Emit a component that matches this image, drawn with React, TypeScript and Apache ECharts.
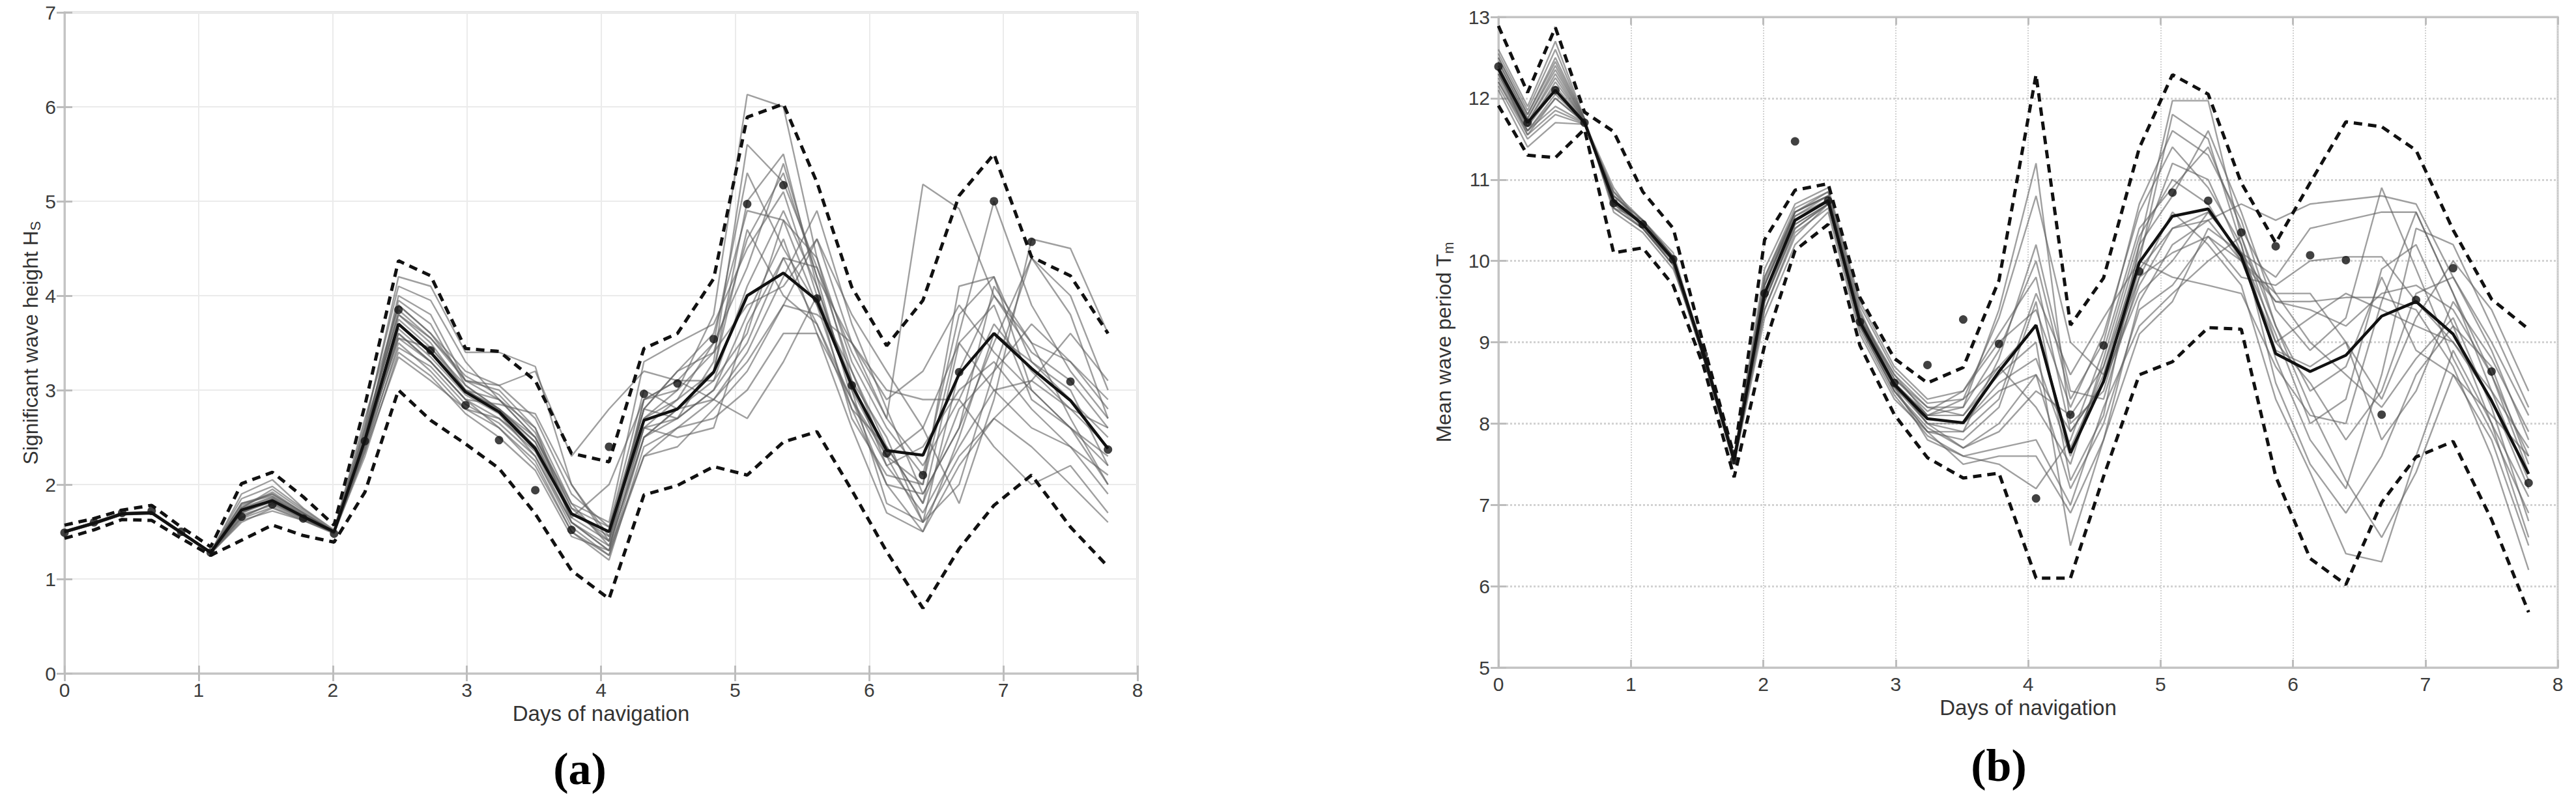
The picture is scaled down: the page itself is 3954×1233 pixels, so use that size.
import React, { useEffect, useRef } from "react";
import * as echarts from "echarts";

// ---------- shared time axis (days of navigation) ----------
const DAYS = [0, 0.22, 0.43, 0.65, 0.87, 1.09, 1.32, 1.55, 1.78, 2.01, 2.24, 2.49, 2.73, 2.99, 3.24, 3.51, 3.78, 4.06, 4.32, 4.57, 4.84, 5.09, 5.36, 5.61, 5.87, 6.13, 6.40, 6.67, 6.93, 7.21, 7.50, 7.78];
const X_TICKS = [0, 1, 2, 3, 4, 5, 6, 7, 8];

// ---------- (a) significant wave height Hs ----------
const HS_MEAN = [1.50, 1.59, 1.69, 1.70, 1.49, 1.28, 1.73, 1.83, 1.66, 1.50, 2.47, 3.70, 3.40, 2.98, 2.77, 2.38, 1.69, 1.50, 2.68, 2.80, 3.19, 4.00, 4.24, 3.95, 3.05, 2.36, 2.31, 3.17, 3.60, 3.23, 2.89, 2.38];
const HS_UPPER = [1.57, 1.64, 1.73, 1.78, 1.55, 1.34, 2.01, 2.13, 1.87, 1.57, 2.84, 4.37, 4.21, 3.44, 3.41, 3.10, 2.33, 2.24, 3.44, 3.60, 4.18, 5.89, 6.03, 5.20, 4.09, 3.47, 3.95, 5.06, 5.50, 4.41, 4.21, 3.60];
const HS_LOWER = [1.43, 1.52, 1.63, 1.62, 1.43, 1.25, 1.41, 1.57, 1.46, 1.39, 1.92, 3.00, 2.68, 2.43, 2.17, 1.69, 1.09, 0.79, 1.89, 1.99, 2.19, 2.10, 2.45, 2.56, 1.94, 1.29, 0.69, 1.32, 1.78, 2.10, 1.55, 1.13];
const HS_OBS = [1.49, 1.60, 1.70, 1.72, 1.50, 1.28, 1.66, 1.79, 1.64, 1.48, 2.46, 3.85, 3.42, 2.84, 2.47, 1.94, 1.52, 2.40, 2.96, 3.07, 3.54, 4.97, 5.17, 3.97, 3.05, 2.33, 2.10, 3.19, 5.00, 4.57, 3.09, 2.37];
const HS_MEMBERS = [
  [1.50, 1.60, 1.69, 1.71, 1.50, 1.28, 1.80, 1.90, 1.70, 1.50, 2.60, 4.20, 4.10, 3.40, 3.40, 3.25, 2.00, 1.40, 2.90, 3.00, 3.80, 6.13, 6.00, 4.40, 3.30, 2.60, 2.10, 3.80, 4.20, 3.30, 3.00, 2.20],
  [1.49, 1.58, 1.68, 1.70, 1.49, 1.27, 1.70, 1.85, 1.68, 1.49, 2.50, 4.00, 3.80, 3.10, 3.00, 2.60, 1.60, 1.30, 2.60, 2.70, 3.30, 5.60, 5.20, 4.30, 3.20, 2.40, 1.80, 2.80, 3.20, 4.40, 4.00, 3.00],
  [1.51, 1.60, 1.70, 1.70, 1.48, 1.28, 1.90, 2.05, 1.75, 1.52, 2.70, 3.90, 3.60, 3.10, 3.05, 3.20, 2.30, 2.80, 3.20, 3.10, 3.50, 4.30, 5.40, 4.20, 2.90, 2.20, 1.70, 2.40, 3.00, 3.10, 2.80, 2.60],
  [1.50, 1.59, 1.69, 1.70, 1.49, 1.29, 1.65, 1.80, 1.65, 1.50, 2.40, 3.60, 3.30, 2.90, 2.60, 2.20, 1.50, 1.20, 2.40, 2.60, 2.90, 3.40, 4.20, 4.90, 3.70, 2.80, 1.90, 2.60, 4.10, 3.50, 2.70, 2.00],
  [1.50, 1.59, 1.69, 1.70, 1.50, 1.28, 1.75, 1.95, 1.72, 1.50, 2.55, 3.80, 3.50, 3.00, 2.80, 2.45, 1.70, 1.45, 2.70, 2.90, 3.20, 5.00, 5.50, 4.10, 3.00, 2.30, 2.60, 3.50, 3.00, 2.60, 2.40, 1.90],
  [1.49, 1.58, 1.68, 1.69, 1.49, 1.27, 1.60, 1.75, 1.62, 1.48, 2.35, 3.50, 3.20, 2.80, 2.70, 2.35, 1.60, 1.35, 2.50, 2.70, 3.00, 3.80, 4.60, 3.60, 2.60, 1.70, 1.50, 2.20, 2.70, 3.10, 3.60, 3.10],
  [1.50, 1.60, 1.69, 1.71, 1.50, 1.28, 1.72, 1.82, 1.66, 1.50, 2.45, 3.75, 3.45, 3.00, 2.90, 2.50, 1.75, 1.55, 3.00, 2.80, 2.90, 3.30, 3.90, 4.60, 3.80, 3.20, 2.60, 1.80, 2.90, 4.60, 4.50, 3.60],
  [1.51, 1.60, 1.70, 1.71, 1.50, 1.29, 1.80, 1.88, 1.69, 1.51, 2.50, 3.95, 3.70, 3.05, 2.80, 2.40, 1.65, 1.40, 2.80, 3.20, 3.60, 4.90, 4.80, 3.90, 2.80, 2.00, 1.50, 2.50, 3.60, 3.30, 2.90, 2.50],
  [1.50, 1.59, 1.68, 1.70, 1.49, 1.28, 1.68, 1.78, 1.64, 1.49, 2.40, 3.65, 3.35, 2.95, 2.75, 2.30, 1.55, 1.25, 2.30, 2.60, 2.70, 3.00, 3.60, 3.60, 2.90, 2.30, 2.00, 3.60, 5.00, 3.90, 3.20, 2.70],
  [1.49, 1.59, 1.69, 1.70, 1.49, 1.28, 1.76, 1.92, 1.70, 1.50, 2.50, 3.85, 3.55, 3.10, 2.90, 2.50, 1.70, 1.50, 2.60, 2.50, 2.60, 3.70, 4.40, 4.30, 3.40, 2.70, 2.20, 2.90, 2.40, 2.00, 2.20, 1.70],
  [1.50, 1.60, 1.70, 1.71, 1.50, 1.28, 1.70, 1.84, 1.67, 1.50, 2.45, 3.55, 3.30, 2.90, 2.85, 2.75, 2.00, 1.45, 2.70, 3.00, 3.40, 4.60, 5.30, 4.20, 3.50, 2.90, 3.20, 3.90, 3.40, 3.00, 2.60, 2.20],
  [1.50, 1.59, 1.69, 1.70, 1.49, 1.27, 1.62, 1.72, 1.62, 1.49, 2.30, 3.40, 3.15, 2.75, 2.50, 2.15, 1.45, 1.30, 2.90, 3.10, 2.90, 2.70, 3.30, 4.00, 3.10, 2.50, 1.60, 2.00, 3.20, 3.70, 3.30, 2.80],
  [1.51, 1.60, 1.70, 1.71, 1.50, 1.29, 1.85, 1.98, 1.74, 1.51, 2.65, 4.10, 3.95, 3.30, 2.90, 2.60, 1.80, 1.35, 2.50, 2.80, 3.10, 4.10, 4.90, 4.10, 3.00, 1.80, 1.60, 2.30, 2.70, 2.40, 2.00, 1.60],
  [1.50, 1.59, 1.69, 1.70, 1.49, 1.28, 1.74, 1.86, 1.66, 1.49, 2.50, 3.70, 3.40, 3.00, 2.80, 2.50, 1.80, 1.60, 3.30, 3.50, 3.70, 4.50, 5.10, 4.00, 2.70, 2.10, 2.00, 4.10, 4.20, 3.00, 2.60, 2.30],
  [1.49, 1.58, 1.68, 1.70, 1.49, 1.27, 1.66, 1.80, 1.64, 1.49, 2.40, 3.45, 3.25, 2.85, 2.65, 2.30, 1.60, 1.30, 2.30, 2.40, 2.80, 3.20, 3.90, 3.80, 3.50, 3.00, 2.90, 2.90, 3.70, 3.20, 2.80, 2.40],
  [1.50, 1.60, 1.70, 1.71, 1.50, 1.29, 1.78, 1.90, 1.70, 1.50, 2.60, 3.80, 3.55, 3.15, 2.95, 2.55, 1.75, 1.40, 2.60, 2.90, 3.50, 5.30, 4.50, 3.90, 3.20, 2.30, 1.60, 3.20, 4.00, 3.40, 3.10, 2.60],
  [1.50, 1.59, 1.69, 1.70, 1.49, 1.28, 1.72, 1.83, 1.66, 1.50, 2.50, 3.60, 3.30, 2.90, 2.70, 2.40, 1.70, 1.50, 2.80, 3.20, 3.40, 3.90, 4.10, 4.60, 3.50, 2.70, 5.18, 4.92, 4.00, 3.50, 3.30, 2.90],
  [1.50, 1.60, 1.69, 1.71, 1.50, 1.28, 1.70, 1.82, 1.66, 1.49, 2.45, 3.55, 3.45, 3.05, 2.80, 2.45, 1.65, 2.00, 2.90, 3.10, 3.10, 3.60, 4.80, 4.40, 3.10, 2.20, 2.40, 3.00, 3.30, 2.80, 2.40, 2.10],
  [1.49, 1.58, 1.68, 1.69, 1.48, 1.27, 1.64, 1.76, 1.63, 1.49, 2.35, 3.35, 3.10, 2.80, 2.60, 2.25, 1.50, 1.25, 2.50, 2.80, 3.20, 4.70, 4.00, 3.70, 2.90, 2.00, 1.90, 2.60, 3.50, 4.40, 3.80, 2.70],
  [1.50, 1.59, 1.69, 1.70, 1.49, 1.28, 1.75, 1.87, 1.68, 1.50, 2.55, 3.90, 3.60, 3.20, 3.05, 2.70, 1.90, 1.55, 2.80, 2.70, 3.00, 3.50, 4.40, 3.70, 2.80, 2.40, 1.80, 3.50, 3.90, 2.90, 2.60, 2.00],
];
const HS_Y_TICKS = [0, 1, 2, 3, 4, 5, 6, 7];

// ---------- (b) mean wave period Tm ----------
const TM_MEAN = [12.36, 11.70, 12.10, 11.70, 10.74, 10.45, 10.02, 8.85, 7.55, 9.60, 10.50, 10.74, 9.25, 8.48, 8.06, 8.01, 8.64, 9.21, 7.64, 8.52, 9.98, 10.55, 10.64, 10.06, 8.86, 8.64, 8.84, 9.32, 9.50, 9.10, 8.28, 7.38];
const TM_UPPER = [12.89, 12.07, 12.87, 11.83, 11.59, 10.85, 10.40, 8.96, 7.60, 10.26, 10.87, 10.95, 9.55, 8.80, 8.50, 8.69, 9.76, 12.29, 9.21, 9.79, 11.39, 12.29, 12.05, 10.96, 10.22, 10.96, 11.71, 11.65, 11.36, 10.38, 9.53, 9.16];
const TM_LOWER = [11.91, 11.30, 11.27, 11.62, 10.10, 10.16, 9.70, 8.70, 7.34, 8.96, 10.13, 10.45, 8.96, 8.11, 7.58, 7.33, 7.39, 6.10, 6.10, 7.35, 8.60, 8.76, 9.18, 9.16, 7.35, 6.34, 6.02, 7.03, 7.59, 7.78, 6.82, 5.68];
const TM_OBS = [12.39, 11.70, 12.10, 11.70, 10.71, 10.45, 10.02, 8.85, 7.55, 9.60, 11.47, 10.74, 9.25, 8.50, 8.72, 9.28, 8.98, 7.08, 8.11, 8.96, 9.87, 10.84, 10.74, 10.35, 10.18, 10.07, 10.01, 8.11, 9.52, 9.91, 8.64, 7.27];
const TM_MEMBERS = [
  [12.30, 11.65, 12.20, 11.72, 10.80, 10.50, 10.05, 8.85, 7.55, 9.70, 10.60, 10.80, 9.30, 8.50, 8.10, 8.20, 9.40, 11.20, 8.00, 8.40, 9.90, 10.40, 10.50, 10.00, 9.00, 9.30, 9.60, 9.40, 9.20, 9.00, 8.30, 7.20],
  [12.50, 11.80, 12.50, 11.75, 10.70, 10.40, 10.00, 8.90, 7.50, 9.50, 10.40, 10.70, 9.20, 8.40, 7.90, 7.80, 8.20, 9.50, 7.30, 8.10, 10.20, 11.97, 11.97, 10.30, 9.00, 8.50, 7.80, 8.40, 9.60, 9.80, 9.00, 8.10],
  [12.20, 11.60, 11.90, 11.70, 10.75, 10.45, 10.00, 8.80, 7.55, 9.40, 10.30, 10.70, 9.30, 8.50, 8.00, 7.70, 7.90, 8.40, 8.10, 8.70, 10.00, 11.80, 11.50, 10.20, 8.50, 7.50, 6.90, 7.60, 8.60, 9.20, 8.70, 7.50],
  [12.40, 11.70, 12.30, 11.72, 10.65, 10.50, 10.05, 8.85, 7.55, 9.60, 10.50, 10.75, 9.30, 8.60, 8.20, 8.10, 8.60, 9.00, 6.50, 7.80, 9.50, 10.20, 10.50, 10.70, 10.50, 10.70, 10.75, 10.80, 10.70, 9.80, 8.90, 7.80],
  [12.35, 11.55, 12.00, 11.70, 10.90, 10.40, 9.95, 8.80, 7.50, 9.80, 10.60, 10.85, 9.40, 8.45, 7.80, 7.60, 7.50, 7.20, 7.80, 8.90, 10.40, 10.90, 11.40, 10.40, 9.60, 9.00, 8.60, 8.20, 8.80, 9.30, 8.20, 6.80],
  [12.60, 11.90, 12.70, 11.75, 10.60, 10.35, 9.90, 8.90, 7.60, 9.90, 10.70, 10.90, 9.50, 8.70, 8.30, 8.40, 9.10, 9.80, 7.90, 8.50, 9.60, 10.00, 10.60, 10.10, 9.80, 10.40, 10.50, 10.60, 10.60, 9.60, 8.60, 7.60],
  [12.10, 11.40, 11.70, 11.68, 10.85, 10.50, 10.10, 8.85, 7.50, 9.30, 10.20, 10.60, 9.10, 8.30, 7.90, 7.90, 8.80, 10.20, 8.40, 8.30, 9.80, 10.60, 10.20, 9.70, 8.30, 7.40, 6.40, 6.30, 7.60, 8.90, 8.00, 6.60],
  [12.45, 11.75, 12.40, 11.73, 10.70, 10.45, 10.00, 8.85, 7.55, 9.70, 10.55, 10.75, 9.25, 8.50, 8.10, 8.30, 9.30, 10.80, 9.00, 8.60, 10.10, 11.20, 11.00, 10.10, 9.10, 8.00, 8.30, 9.90, 10.20, 9.20, 8.00, 7.10],
  [12.25, 11.60, 12.05, 11.70, 10.75, 10.45, 10.05, 8.80, 7.55, 9.50, 10.45, 10.70, 9.20, 8.40, 7.95, 7.70, 8.00, 8.60, 7.20, 8.00, 9.40, 9.70, 10.30, 9.80, 9.70, 10.00, 10.05, 10.05, 9.50, 9.00, 8.40, 7.70],
  [12.30, 11.65, 12.10, 11.71, 10.80, 10.45, 10.00, 8.85, 7.55, 9.60, 10.50, 10.75, 9.25, 8.50, 8.00, 8.00, 8.50, 8.80, 7.60, 8.70, 10.20, 10.80, 11.60, 10.60, 9.40, 8.90, 9.30, 10.90, 9.90, 8.80, 7.90, 6.90],
  [12.40, 11.70, 12.25, 11.72, 10.70, 10.50, 10.05, 8.90, 7.55, 9.70, 10.55, 10.80, 9.35, 8.55, 8.15, 8.40, 9.00, 9.40, 8.20, 9.10, 10.60, 11.40, 10.90, 10.20, 8.80, 7.80, 7.20, 8.60, 10.40, 10.20, 9.20, 8.20],
  [12.15, 11.50, 11.80, 11.68, 10.85, 10.40, 9.95, 8.80, 7.50, 9.40, 10.35, 10.65, 9.15, 8.35, 7.85, 7.60, 7.70, 7.80, 7.00, 8.20, 9.20, 9.60, 10.00, 10.30, 9.20, 8.20, 7.30, 6.60, 7.40, 8.60, 7.80, 6.50],
  [12.55, 11.85, 12.60, 11.74, 10.65, 10.40, 10.00, 8.90, 7.60, 9.80, 10.65, 10.85, 9.45, 8.65, 8.25, 8.30, 8.70, 8.20, 7.50, 8.80, 10.30, 11.00, 10.70, 10.00, 9.50, 9.40, 9.20, 9.60, 9.70, 9.40, 8.60, 7.40],
  [12.35, 11.70, 12.15, 11.71, 10.75, 10.45, 10.00, 8.85, 7.55, 9.60, 10.50, 10.75, 9.25, 8.45, 8.00, 7.90, 8.30, 9.60, 8.60, 9.30, 10.00, 9.80, 9.70, 9.60, 8.70, 8.10, 8.00, 9.50, 10.60, 9.60, 8.40, 7.30],
  [12.20, 11.55, 11.85, 11.69, 10.80, 10.50, 10.05, 8.80, 7.50, 9.50, 10.40, 10.70, 9.20, 8.40, 7.90, 7.50, 7.60, 7.60, 6.90, 7.80, 9.10, 9.50, 10.40, 10.10, 9.50, 9.50, 9.55, 9.55, 9.40, 8.70, 7.60, 6.20],
  [12.45, 11.75, 12.35, 11.73, 10.70, 10.45, 10.00, 8.85, 7.55, 9.70, 10.60, 10.80, 9.30, 8.55, 8.20, 8.20, 8.90, 10.00, 8.30, 9.00, 10.70, 11.60, 11.30, 10.50, 9.20, 8.40, 8.70, 9.80, 8.90, 8.60, 8.10, 7.60],
  [12.30, 11.60, 12.00, 11.70, 10.75, 10.45, 10.00, 8.85, 7.55, 9.55, 10.45, 10.70, 9.20, 8.45, 8.05, 8.00, 8.40, 8.60, 7.90, 8.50, 9.70, 10.40, 10.60, 10.10, 8.90, 8.70, 9.00, 8.30, 9.30, 10.00, 9.40, 8.40],
  [12.50, 11.80, 12.45, 11.74, 10.65, 10.40, 9.95, 8.85, 7.55, 9.75, 10.60, 10.80, 9.35, 8.60, 8.10, 8.10, 8.70, 9.20, 7.70, 8.60, 9.80, 10.10, 10.30, 10.00, 9.60, 9.60, 9.00, 7.80, 8.40, 9.50, 8.80, 7.90],
];
const TM_Y_TICKS = [5, 6, 7, 8, 9, 10, 11, 12, 13];

const FONT = "'Liberation Sans', Arial, Helvetica, sans-serif";

const pairs = (ys: number[]) => ys.map((y, i) => [DAYS[i], y]);

function panelSeries(members: number[][], upper: number[], lower: number[], mean: number[], obs: number[], xi: number, yi: number) {
  const s: any[] = [];
  members.forEach((m, k) => {
    s.push({
      type: "line", name: "member" + k, xAxisIndex: xi, yAxisIndex: yi, data: pairs(m), symbol: "none",
      lineStyle: { color: "rgba(95,95,95,0.6)", width: 2.4 }, z: 2, silent: true,
    });
  });
  [upper, lower].forEach((d, k) => {
    s.push({
      type: "line", name: k === 0 ? "upper" : "lower", xAxisIndex: xi, yAxisIndex: yi, data: pairs(d), symbol: "none",
      lineStyle: { color: "#111", width: 5, type: [13, 9] }, z: 4, silent: true,
    });
  });
  s.push({
    type: "line", name: "mean", xAxisIndex: xi, yAxisIndex: yi, data: pairs(mean), symbol: "none",
    lineStyle: { color: "#111", width: 4.5 }, z: 5, silent: true,
  });
  s.push({
    type: "scatter", name: "obs", xAxisIndex: xi, yAxisIndex: yi, data: pairs(obs), symbol: "circle", symbolSize: 13,
    itemStyle: { color: "#111" }, z: 6, silent: true,
  });
  return s;
}

function xAxes(grid: number, gridLine: any) {
  const t = X_TICKS;
  return [
    {
      type: "value", gridIndex: grid, position: "bottom", min: t[0], max: t[t.length - 1], interval: 1,
      axisLine: { show: true, lineStyle: { color: "#c4c4c4", width: 3 } },
      axisTick: { show: true, inside: true, length: 12, lineStyle: { color: "#bdbdbd", width: 3 } },
      axisLabel: { fontSize: 30, color: "#3c3c3c", margin: 10, fontFamily: FONT },
      splitLine: { show: true, lineStyle: gridLine },
      name: "Days of navigation", nameLocation: "middle", nameGap: 44,
      nameTextStyle: { fontSize: 33, color: "#333", fontFamily: FONT },
    },
    {
      type: "value", gridIndex: grid, position: "top", min: t[0], max: t[t.length - 1], interval: 1,
      axisLine: { show: true, lineStyle: { color: "#c4c4c4", width: 3 } },
      axisTick: { show: true, inside: true, length: 12, lineStyle: { color: "#bdbdbd", width: 3 } },
      axisLabel: { show: false }, splitLine: { show: false },
    },
  ];
}

function yAxes(grid: number, ticks: number[], gridLine: any, name: string, gap: number) {
  return [
    {
      type: "value", gridIndex: grid, position: "left", min: ticks[0], max: ticks[ticks.length - 1], interval: 1,
      axisLine: { show: true, lineStyle: { color: "#c4c4c4", width: 3 } },
      axisTick: { show: true, inside: true, length: 12, lineStyle: { color: "#bdbdbd", width: 3 } },
      axisLabel: { fontSize: 30, color: "#3c3c3c", margin: 13, fontFamily: FONT },
      splitLine: { show: true, lineStyle: gridLine },
      name, nameLocation: "middle", nameGap: gap,
      nameTextStyle: {
        color: "#333", fontFamily: FONT,
        rich: {
          a: { fontSize: 32, color: "#333", fontFamily: FONT, lineHeight: 34, verticalAlign: "top" },
          s: { fontSize: 22, color: "#333", fontFamily: FONT, lineHeight: 22, verticalAlign: "bottom", padding: [14, 0, 0, 0] },
        },
      },
    },
    {
      type: "value", gridIndex: grid, position: "right", min: ticks[0], max: ticks[ticks.length - 1], interval: 1,
      axisLine: { show: true, lineStyle: { color: "#c4c4c4", width: 3 } },
      axisTick: { show: true, inside: true, length: 12, lineStyle: { color: "#bdbdbd", width: 3 } },
      axisLabel: { show: false }, splitLine: { show: false },
    },
  ];
}

export default function App() {
  const ref = useRef<HTMLDivElement>(null);
  useEffect(() => {
    if (!ref.current) return;
    const chart = echarts.init(ref.current, undefined, { renderer: "svg" });
    const gridA = { color: "#ebebeb", width: 2, type: "solid" };
    const gridB = { color: "#d2d2d2", width: 3, type: "dotted" };
    const option: any = {
      animation: false,
      backgroundColor: "#ffffff",
      grid: [
        { left: 99, top: 19, width: 1647, height: 1015, show: true, borderColor: "#c8c8c8", borderWidth: 3 },
        { left: 2300, top: 26, width: 1626, height: 999, show: true, borderColor: "#c8c8c8", borderWidth: 3 },
      ],
      xAxis: [...xAxes(0, gridA), ...xAxes(1, { ...gridB, width: 2 })],
      yAxis: [
        ...yAxes(0, HS_Y_TICKS, gridA, "{a|Significant wave height H}{s|S}", 34),
        ...yAxes(1, TM_Y_TICKS, gridB, "{a|Mean wave period T}{s|m}", 66),
      ],
      series: [
        ...panelSeries(HS_MEMBERS, HS_UPPER, HS_LOWER, HS_MEAN, HS_OBS, 0, 0),
        ...panelSeries(TM_MEMBERS, TM_UPPER, TM_LOWER, TM_MEAN, TM_OBS, 2, 2),
      ],
      graphic: [
        {
          type: "text", x: 890, y: 1180,
          style: { text: "(a)", fontSize: 70, fontWeight: "bold", fontFamily: "'Liberation Serif', 'Times New Roman', serif", fill: "#000", align: "center", verticalAlign: "middle" },
        },
        {
          type: "text", x: 3068, y: 1175,
          style: { text: "(b)", fontSize: 70, fontWeight: "bold", fontFamily: "'Liberation Serif', 'Times New Roman', serif", fill: "#000", align: "center", verticalAlign: "middle" },
        },
      ],
    };
    chart.setOption(option);
    return () => chart.dispose();
  }, []);
  return <div ref={ref} style={{ position: "absolute", left: 0, top: 0, width: 3954, height: 1233 }} />;
}
